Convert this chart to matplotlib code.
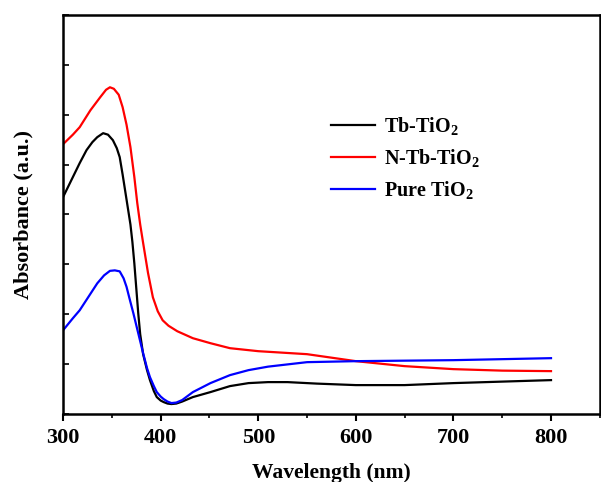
import matplotlib
matplotlib.use("Agg")
import matplotlib.pyplot as plt
from matplotlib.ticker import MultipleLocator

plt.rcParams['font.family'] = 'Liberation Serif'
plt.rcParams['font.weight'] = 'bold'
plt.rcParams['mathtext.fontset'] = 'custom'
plt.rcParams['mathtext.rm'] = 'Liberation Serif:bold'
plt.rcParams['mathtext.it'] = 'Liberation Serif:bold'
plt.rcParams['mathtext.bf'] = 'Liberation Serif:bold'

# Tb-TiO2
wl_tb = [300, 310, 317, 324, 330, 335, 341, 346, 351, 355, 358, 361, 365, 369, 371, 373, 375,
         377, 379, 382, 386, 389, 393, 396, 400, 403, 407, 411, 416, 422, 433, 451, 471, 490,
         510, 530, 560, 600, 650, 700, 750, 800]
ab_tb = [4.35, 4.75, 5.03, 5.29, 5.45, 5.55, 5.63, 5.6, 5.49, 5.33, 5.15, 4.8, 4.3, 3.8,
         3.45, 3.02, 2.52, 2.02, 1.6, 1.2, 0.88, 0.68, 0.46, 0.34, 0.27, 0.24, 0.21, 0.2, 0.21,
         0.25, 0.34, 0.44, 0.56, 0.62, 0.64, 0.64, 0.61, 0.58, 0.58, 0.62, 0.65, 0.68]

# N-Tb-TiO2
wl_ntb = [300, 310, 317, 328, 338, 344, 348, 352, 357, 361, 365, 369, 373, 376, 379, 382,
          387, 392, 397, 402, 408, 417, 433, 451, 471, 500, 550, 600, 650, 700, 750, 800]
ab_ntb = [5.41, 5.6, 5.75, 6.09, 6.35, 6.5, 6.55, 6.52, 6.4, 6.15, 5.8, 5.35, 4.75, 4.23, 3.8,
          3.43, 2.83, 2.34, 2.06, 1.88, 1.77, 1.66, 1.52, 1.42, 1.32, 1.26, 1.2, 1.06, 0.96,
          0.9, 0.87, 0.86]

# Pure TiO2
wl_p = [300, 310, 317, 325, 335, 342, 348, 353, 358, 362, 365, 368, 372, 377, 382, 386, 389,
        393, 396, 400, 403, 407, 411, 416, 422, 433, 451, 471, 490, 510, 550, 600, 700, 800]
ab_p = [1.68, 1.92, 2.08, 2.32, 2.62, 2.78, 2.87, 2.88, 2.86, 2.72, 2.55, 2.32, 2.02, 1.62,
        1.22, 0.92, 0.74, 0.56, 0.44, 0.35, 0.3, 0.25, 0.22, 0.23, 0.28, 0.44, 0.62, 0.78,
        0.88, 0.95, 1.04, 1.06, 1.08, 1.12]

fig = plt.figure(figsize=(6.01, 4.82), dpi=100)
ax = fig.add_axes([0.105, 0.141, 0.893, 0.828])

ax.plot(wl_tb, ab_tb, color='black', lw=1.6, label='Tb-TiO$_2$')
ax.plot(wl_ntb, ab_ntb, color='#ff0000', lw=1.6, label='N-Tb-TiO$_2$')
ax.plot(wl_p, ab_p, color='#0000ff', lw=1.6, label='Pure TiO$_2$')

ax.set_xlim(300, 850)
ax.set_ylim(0, 8)
ax.xaxis.set_major_locator(MultipleLocator(100))
ax.xaxis.set_minor_locator(MultipleLocator(50))
ax.yaxis.set_major_locator(MultipleLocator(1))
ax.set_yticklabels([])
ax.tick_params(axis='x', which='major', direction='out', length=5, width=1.5, labelsize=16, pad=5)
ax.tick_params(axis='x', which='minor', direction='out', length=3, width=1.2)
ax.tick_params(axis='y', which='major', direction='in', length=4, width=1.2, left=True)
for s in ax.spines.values():
    s.set_linewidth(1.8)

ax.set_xlabel('Wavelength (nm)', fontsize=15.5, fontweight='bold', labelpad=11)
ax.set_ylabel('Absorbance (a.u.)', fontsize=16, fontweight='bold', labelpad=18)

leg = ax.legend(loc='upper left', bbox_to_anchor=(0.465, 0.795), frameon=False,
                fontsize=14.5, handlelength=2.2, handletextpad=0.45, labelspacing=0.5)

fig.savefig('out.png', dpi=100)
